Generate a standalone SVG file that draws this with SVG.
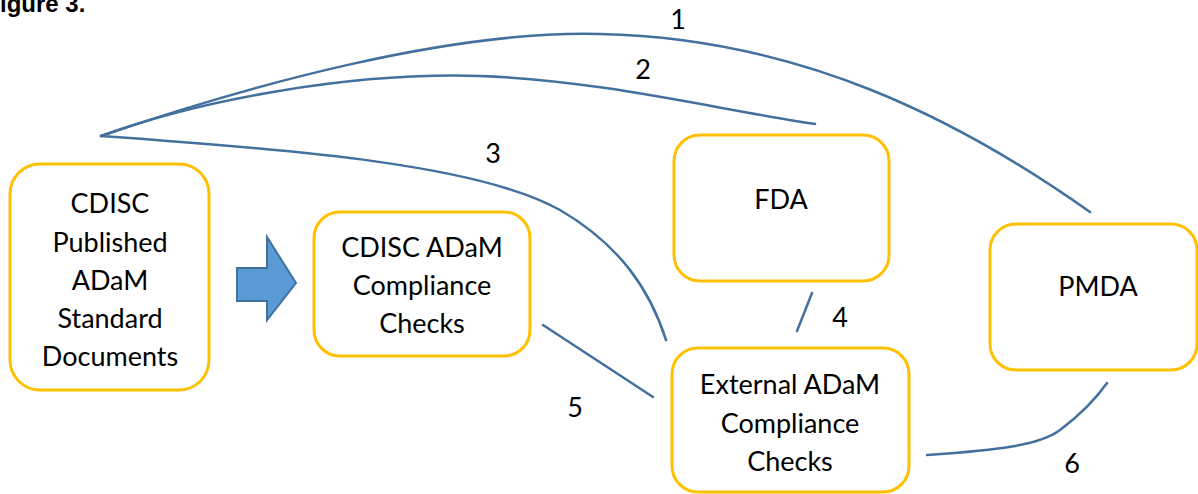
<svg xmlns="http://www.w3.org/2000/svg" width="1198" height="494" viewBox="0 0 1198 494">
<style>
.box{fill:#fff;stroke:#FFC000;stroke-width:3}
.t{font-family:Lato,"Liberation Sans",sans-serif;font-size:27px;fill:#000;text-anchor:middle}
.c{fill:none;stroke:#44709D;stroke-width:2.5;stroke-linecap:round}
</style>
<rect width="1198" height="494" fill="#fff"/>
<text x="0" y="12" font-family="Liberation Sans, Arial, sans-serif" font-size="24" font-weight="bold">igure 3.</text>
<g id="connectors">
<path class="c" d="M101,136 C250,85 450,30 600,34 C800,38 960,120 1090,212"/>
<path class="c" d="M101,136 C200,100 350,72 480,76 C600,80 720,110 815,124"/>
<path class="c" d="M101,136 C300,150 480,165 560,210 C620,245 650,290 666,340"/>
<path class="c" d="M812,293 L797,331"/>
<path class="c" d="M543,325 L653,397"/>
<path class="c" d="M927,455 C1000,450 1040,445 1060,430 C1080,415 1095,400 1107,383"/>
<g class="t">
<text x="678" y="29">1</text>
<text x="643" y="79">2</text>
<text x="493" y="163">3</text>
<text x="840" y="327">4</text>
<text x="575" y="417">5</text>
<text x="1072" y="473">6</text>
</g>
</g>
<g id="arrow">
<polygon points="237,268 267,268 267,237 296,283 267,320 267,301 237,301" fill="#5B9BD5" stroke="#41719C" stroke-width="2"/>
</g>
<g id="cdisc-docs">
<rect class="box" x="10" y="164" width="199" height="226" rx="30"/>
<text class="t" x="110" y="213">CDISC</text>
<text class="t" x="110" y="252">Published</text>
<text class="t" x="110" y="290">ADaM</text>
<text class="t" x="110" y="328">Standard</text>
<text class="t" x="110" y="366">Documents</text>
</g>
<g id="cdisc-checks">
<rect class="box" x="314" y="212" width="216" height="144" rx="26"/>
<text class="t" x="422" y="257">CDISC ADaM</text>
<text class="t" x="422" y="295">Compliance</text>
<text class="t" x="422" y="333">Checks</text>
</g>
<g id="fda">
<rect class="box" x="674" y="135" width="215" height="146" rx="26"/>
<text class="t" x="781" y="209">FDA</text>
</g>
<g id="pmda">
<rect class="box" x="990" y="224" width="207" height="146" rx="26"/>
<text class="t" x="1098" y="296">PMDA</text>
</g>
<g id="external-checks">
<rect class="box" x="672" y="348" width="237" height="144" rx="26"/>
<text class="t" x="790" y="394">External ADaM</text>
<text class="t" x="790" y="433">Compliance</text>
<text class="t" x="790" y="471">Checks</text>
</g>
</svg>
